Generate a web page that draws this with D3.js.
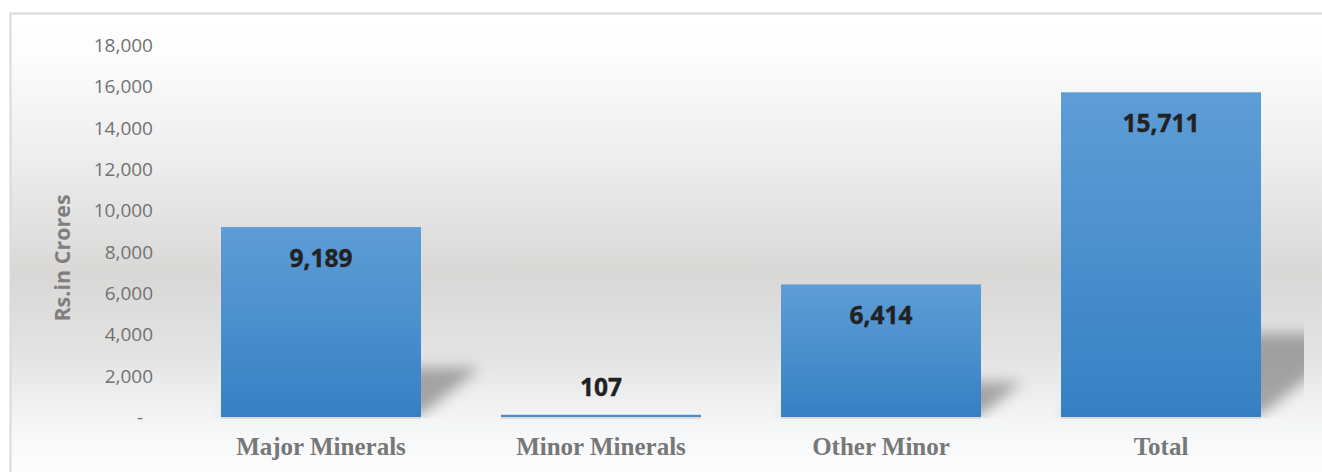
<!DOCTYPE html>
<html>
<head>
<meta charset="utf-8">
<script src="https://cdn.jsdelivr.net/npm/d3@7"></script>
<style>
  html, body { margin: 0; padding: 0; background: #ffffff; }
  svg { display: block; }
</style>
</head>
<body>
<svg id="chart" width="1322" height="472"></svg>
<script>
const categories = ["Major Minerals", "Minor Minerals", "Other Minor", "Total"];
const values = [9189, 107, 6414, 15711];
const yTickValues = [0, 2000, 4000, 6000, 8000, 10000, 12000, 14000, 16000, 18000];
const yAxisTitle = "Rs.in Crores";

const W = 1322, H = 472;
const svg = d3.select("#chart");
const defs = svg.append("defs");

// background gradient
const bg = defs.append("linearGradient").attr("id", "bgGrad")
  .attr("x1", 0).attr("y1", 0).attr("x2", 0).attr("y2", 1);
[[0, "#ffffff"], [0.08, "#fdfdfd"], [0.3, "#eeeeee"], [0.55, "#d9d8d7"], [0.72, "#e3e3e3"], [0.88, "#f6f7f8"], [1, "#ffffff"]]
  .forEach(([o, c]) => bg.append("stop").attr("offset", o).attr("stop-color", c));

// bar gradient
const bar = defs.append("linearGradient").attr("id", "barGrad")
  .attr("x1", 0).attr("y1", 0).attr("x2", 0).attr("y2", 1);
[[0, "#5e9dd6"], [0.5, "#4b8fcd"], [1, "#3580c3"]]
  .forEach(([o, c]) => bar.append("stop").attr("offset", o).attr("stop-color", c));

const blur = defs.append("filter").attr("id", "shBlur")
  .attr("x", "-40%").attr("y", "-40%").attr("width", "180%").attr("height", "180%");
blur.append("feGaussianBlur").attr("stdDeviation", 7);

defs.append("clipPath").attr("id", "plotClip")
  .append("rect").attr("x", 12).attr("y", 14).attr("width", 1292).attr("height", 404);

// chart area background and border
svg.append("rect").attr("x", 11).attr("y", 14).attr("width", W).attr("height", H)
  .attr("fill", "url(#bgGrad)");
svg.append("path").attr("d", `M10.5,${H} L10.5,13.5 L${W},13.5`)
  .attr("fill", "none").attr("stroke", "#dadada").attr("stroke-width", 2);

// scales
const x = d3.scaleBand().domain(categories).range([181, 1301])
  .paddingInner(80 / 280).paddingOuter(40 / 280);
const y = d3.scaleLinear().domain([0, 18000]).range([417, 45]);

// y axis (labels only)
const fmt = d3.format(",");
const yAxis = d3.axisLeft(y).tickValues(yTickValues)
  .tickFormat(d => d === 0 ? "-" : fmt(d)).tickSize(0).tickPadding(0);
const gy = svg.append("g").attr("transform", "translate(153,0)").call(yAxis);
gy.select(".domain").remove();
gy.selectAll("text")
  .attr("font-family", "'Open Sans', sans-serif")
  .attr("font-size", 19)
  .attr("fill", "#727272")
  .attr("dy", "0.35em")
  .attr("dx", d => d === 0 ? -10 : 0);

// y axis title
svg.append("text")
  .attr("transform", "translate(70,258) rotate(-90)")
  .attr("text-anchor", "middle")
  .attr("font-family", "'Open Sans', sans-serif")
  .attr("font-weight", "bold")
  .attr("font-size", 21.5)
  .attr("fill", "#7f7f7f")
  .text(yAxisTitle);

const data = categories.map((c, i) => ({ c, v: values[i] }));

// perspective shadows
const shadowG = svg.append("g").attr("clip-path", "url(#plotClip)");
shadowG.selectAll("path").data(data).enter().append("path")
  .attr("d", d => {
    const x0 = x(d.c), x1 = x0 + x.bandwidth(), b = y(0) - 2;
    const hh = (y(0) - y(d.v)) * 0.25, s = hh * 1.25;
    return `M${x0},${b} L${x1},${b} L${x1 + s},${b - hh} L${x0 + s},${b - hh} Z`;
  })
  .attr("fill", "#858383").attr("opacity", 0.7)
  .attr("filter", "url(#shBlur)");

// bar base glow line
svg.selectAll("rect.base").data(data).enter().append("rect")
  .attr("class", "base")
  .attr("x", d => x(d.c)).attr("y", y(0))
  .attr("width", x.bandwidth()).attr("height", 2)
  .attr("fill", "#dcdcdc");

// bars
svg.selectAll("rect.bar").data(data).enter().append("rect")
  .attr("class", "bar")
  .attr("x", d => x(d.c)).attr("y", d => y(d.v))
  .attr("width", x.bandwidth()).attr("height", d => y(0) - y(d.v))
  .attr("fill", d => (y(0) - y(d.v)) > 10 ? "url(#barGrad)" : "#4a8ccc");

// value labels
svg.selectAll("text.val").data(data).enter().append("text")
  .attr("class", "val")
  .attr("x", d => x(d.c) + x.bandwidth() / 2)
  .attr("y", d => (y(0) - y(d.v)) > 40 ? y(d.v) + 31 : y(d.v) - 27)
  .attr("dy", "0.35em")
  .attr("text-anchor", "middle")
  .attr("font-family", "'Open Sans', sans-serif")
  .attr("font-weight", "bold")
  .attr("font-size", 24.5)
  .attr("fill", "#222222")
  .attr("stroke", "#222222").attr("stroke-width", 0.4)
  .text(d => fmt(d.v));

// x axis category labels
const xAxis = d3.axisBottom(x).tickSize(0).tickPadding(0);
const gx = svg.append("g").attr("transform", "translate(0,455)").call(xAxis);
gx.select(".domain").remove();
gx.selectAll("text")
  .attr("font-family", "'Liberation Serif', 'Times New Roman', serif")
  .attr("font-weight", "bold")
  .attr("font-size", 25)
  .attr("fill", "#777777")
  .attr("dy", 0);
</script>
</body>
</html>
